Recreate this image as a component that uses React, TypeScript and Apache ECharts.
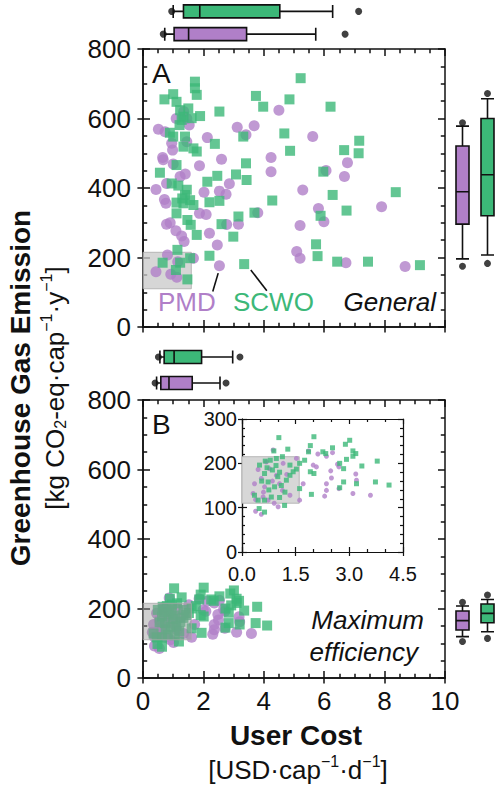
import React, { useEffect, useRef } from "react";
import * as echarts from "echarts";

const PURPLE = "#b07fc8";
const GREEN = "#3cb878";
const INK = "#111111";
const FONT = "Liberation Sans";

// Panel A (General) scatter data: [user cost, GHG emission]
const pmdGeneral: number[][] = [
  [4.5, 624], [3.12, 575], [3.68, 579], [3.41, 553], [5.62, 548], [0.51, 569], [0.73, 562], [1.53, 581],
  [2.13, 545], [0.95, 529], [0.98, 509], [1.45, 533], [0.65, 488], [0.67, 481], [1.0, 469], [1.87, 464],
  [2.6, 483], [4.24, 488], [4.24, 447], [6.06, 450], [6.77, 473], [6.67, 433], [0.78, 413], [0.43, 396],
  [0.71, 367], [0.76, 356], [2.86, 412], [2.53, 391], [2.75, 382], [2.02, 388], [5.29, 394], [7.9, 346],
  [5.81, 341], [5.99, 303], [5.2, 292], [1.87, 327], [2.09, 324], [3.8, 329], [0.78, 296], [0.9, 300],
  [1.09, 277], [1.28, 262], [1.36, 246], [2.2, 270], [2.46, 236], [2.77, 295], [3.16, 296], [5.09, 217],
  [5.2, 198], [6.72, 185], [8.68, 174], [2.53, 176], [0.81, 207], [1.15, 188], [0.43, 159], [0.92, 152],
  [1.12, 143], [1.67, 198], [1.23, 433], [1.4, 440], [1.1, 600], [1.45, 600], [1.35, 620],
];
const scwoGeneral: number[][] = [
  [5.22, 716], [1.72, 706], [1.72, 687], [1.0, 670], [0.71, 655], [1.78, 668], [3.74, 665], [4.85, 655],
  [3.98, 634], [6.21, 634], [1.11, 648], [1.5, 629], [1.23, 624], [1.89, 607], [2.53, 620], [1.61, 601],
  [1.28, 596], [1.34, 605], [1.21, 581], [0.89, 559], [1.0, 548], [3.32, 548], [4.68, 557], [1.39, 548],
  [2.38, 527], [1.34, 519], [1.67, 514], [1.78, 505], [4.87, 507], [6.66, 509], [7.16, 536], [7.14, 500],
  [5.97, 447], [0.56, 444], [1.11, 466], [3.41, 471], [3.08, 439], [3.43, 423], [2.46, 435], [2.13, 418],
  [0.95, 413], [1.17, 407], [1.39, 380], [1.56, 365], [1.11, 358], [1.34, 356], [1.67, 351], [2.2, 359],
  [2.53, 363], [4.28, 364], [6.28, 380], [8.37, 388], [6.74, 335], [3.69, 329], [3.16, 318], [5.88, 320],
  [1.11, 327], [1.47, 308], [1.58, 294], [2.6, 296], [2.99, 260], [1.78, 265], [1.14, 222], [2.2, 205],
  [1.56, 198], [5.73, 238], [5.78, 204], [6.43, 188], [7.45, 188], [9.17, 178], [3.35, 181], [1.23, 185],
  [0.65, 185], [1.47, 137], [1.09, 164], [1.45, 395], [1.3, 370],
];

// Panel B (Maximum efficiency) scatter data
const pmdMax: number[][] = [
  [0.87, 230], [1.86, 228], [2.12, 221], [2.53, 224], [2.36, 216], [2.67, 198], [2.71, 192], [1.99, 196],
  [2.08, 192], [2.48, 183], [2.5, 167], [2.36, 154], [2.36, 139], [2.31, 126], [3.18, 176], [3.2, 162],
  [2.71, 143], [3.1, 132], [3.59, 128], [1.71, 154], [1.61, 117], [1.34, 128], [1.13, 139], [1.05, 154],
  [0.96, 173], [0.77, 188], [0.45, 186], [0.54, 166], [0.35, 154], [0.63, 147], [0.59, 124], [0.73, 117],
  [1.01, 102], [0.38, 92], [0.54, 85], [0.38, 118], [0.31, 132], [0.68, 203], [1.15, 200], [1.52, 211],
  [0.85, 160], [1.25, 175], [0.6, 135], [0.9, 110],
];
const scwoMax: number[][] = [
  [1.03, 258], [2.01, 260], [3.01, 252], [2.89, 243], [1.28, 232], [0.89, 228], [1.86, 226], [1.91, 240],
  [2.53, 235], [2.26, 226], [2.34, 222], [3.1, 228], [3.18, 222], [3.1, 216], [2.92, 209], [3.78, 205],
  [1.75, 207], [1.61, 200], [3.35, 194], [2.01, 177], [1.91, 181], [1.13, 215], [0.96, 211], [0.79, 207],
  [1.52, 187], [1.34, 196], [1.43, 181], [1.24, 162], [1.34, 173], [2.73, 200], [2.84, 188], [2.84, 158],
  [2.73, 145], [3.2, 154], [3.73, 158], [4.11, 151], [1.94, 130], [1.61, 143], [0.49, 196], [0.63, 177],
  [0.73, 158], [0.91, 147], [0.82, 124], [1.05, 123], [0.45, 117], [0.63, 117], [1.19, 105], [0.48, 98],
  [0.63, 90], [0.35, 128], [0.7, 190], [0.85, 185], [1.0, 170], [0.75, 140], [1.1, 150], [0.95, 195],
  [0.55, 160], [1.2, 135], [0.65, 205], [1.05, 180],
];

// Box plots: [lower whisker, Q1, median, Q3, upper whisker]
const boxCategories = ["PMD", "SCWO"];
const costBoxGeneral = { PMD: [0.72, 1.03, 1.51, 3.43, 5.72], SCWO: [1.0, 1.34, 1.88, 4.53, 6.28] };
const costDotsGeneral = { PMD: [0.67, 6.69], SCWO: [0.95, 7.14] };
const costBoxMax = { PMD: [0.45, 0.59, 0.86, 1.63, 2.55], SCWO: [0.56, 0.7, 1.03, 1.94, 2.97] };
const costDotsMax = { PMD: [0.4, 2.75], SCWO: [0.51, 3.21] };
const ghgBoxGeneral = { PMD: [196, 296, 389, 521, 578], SCWO: [207, 320, 438, 600, 657] };
const ghgDotsGeneral = { PMD: [175, 588], SCWO: [183, 672] };
const ghgBoxMax = { PMD: [119, 138, 165, 193, 207], SCWO: [133, 159, 186, 213, 226] };
const ghgDotsMax = { PMD: [105, 218], SCWO: [114, 239] };

// Highlighted region (cost, emission)
const zoomRegion = { x: [0, 1.6], y: [110, 215] };
// Leader lines from labels to points (panel A)
const pmdLeader = [[2.31, 102], [2.49, 155]];
const scwoLeader = [[3.57, 164], [4.1, 104]];

const X_TICKS = { min: 0, max: 10, interval: 2, minor: 4 };
const Y_TICKS = { min: 0, max: 800, interval: 200, minor: 4 };
const INSET_X = { min: 0, max: 4.5, interval: 1.5, minor: 3 };
const INSET_Y = { min: 0, max: 300, interval: 100, minor: 5 };

const line = (w: number) => ({ color: INK, width: w });

function axis(
  kind: "x" | "y",
  grid: number,
  ticks: any,
  position: string,
  mode: "in" | "out",
  label: boolean,
  fontSize: number,
  w: number,
  big: number
) {
  const small = fontSize < 22;
  return {
    type: "value",
    gridIndex: grid,
    position,
    min: ticks.min,
    max: ticks.max,
    interval: ticks.interval,
    axisLine: { show: true, onZero: false, lineStyle: line(w) },
    axisTick: { show: true, inside: mode === "in", length: mode === "in" ? big : big * 0.8, lineStyle: line(w) },
    minorTick: { show: mode === "in", splitNumber: ticks.minor, length: big * 0.6, lineStyle: line(w) },
    axisLabel: {
      show: label,
      fontSize,
      color: INK,
      fontFamily: FONT,
      margin: kind === "y" ? (small ? 5 : 12) : small ? 12 : 10,
      formatter: ticks.interval === 1.5 ? (v: number) => v.toFixed(1) : undefined,
    },
    splitLine: { show: false },
    minorSplitLine: { show: false },
  };
}

function hiddenValue(grid: number, min: number, max: number) {
  return {
    type: "value", gridIndex: grid, min, max, show: false,
    axisLine: { show: false }, axisTick: { show: false }, axisLabel: { show: false }, splitLine: { show: false },
  };
}
function hiddenCat(grid: number) {
  return {
    type: "category", gridIndex: grid, data: boxCategories, show: false,
    axisLine: { show: false }, axisTick: { show: false }, axisLabel: { show: false }, splitLine: { show: false },
  };
}

function boxSeries(xi: number, yi: number, box: any, dots: any, horizontal: boolean) {
  const series: any[] = [
    {
      type: "boxplot",
      xAxisIndex: xi,
      yAxisIndex: yi,
      boxWidth: [13, 13],
      itemStyle: { borderColor: INK, borderWidth: 1.6 },
      data: [
        { value: box.PMD, itemStyle: { color: PURPLE, borderColor: INK } },
        { value: box.SCWO, itemStyle: { color: GREEN, borderColor: INK } },
      ],
      z: 3,
    },
  ];
  const pts: any[] = [];
  boxCategories.forEach((c, i) => {
    (dots as any)[c].forEach((v: number) => pts.push(horizontal ? [v, i] : [i, v]));
  });
  series.push({
    type: "scatter", xAxisIndex: xi, yAxisIndex: yi, symbol: "circle", symbolSize: 7,
    itemStyle: { color: INK }, data: pts, z: 4,
  });
  return series;
}

export default function App() {
  const ref = useRef<HTMLDivElement>(null);
  useEffect(() => {
    if (!ref.current) return;
    const chart = echarts.init(ref.current, null, { renderer: "svg" });

    const grids = [
      { left: 143, top: 49, width: 302, height: 278 },
      { left: 143, top: 400, width: 302, height: 278 },
      { left: 242, top: 419, width: 161, height: 133, show: true, backgroundColor: "#ffffff", borderWidth: 0 },
      { left: 143, top: -5.5, width: 302, height: 51 },
      { left: 143, top: 344, width: 302, height: 52 },
      { left: 450, top: 49, width: 54, height: 278 },
      { left: 450, top: 400, width: 54, height: 278 },
    ];

    const xAxis = [
      axis("x", 0, X_TICKS, "bottom", "in", false, 26, 1.5, 7),
      axis("x", 0, X_TICKS, "bottom", "out", false, 26, 1.5, 7),
      axis("x", 0, X_TICKS, "top", "in", false, 26, 1.5, 7),
      axis("x", 1, X_TICKS, "bottom", "in", true, 26, 1.5, 7),
      axis("x", 1, X_TICKS, "bottom", "out", false, 26, 1.5, 7),
      axis("x", 1, X_TICKS, "top", "in", false, 26, 1.5, 7),
      axis("x", 2, INSET_X, "bottom", "in", true, 20, 1.2, 5),
      axis("x", 2, INSET_X, "bottom", "out", false, 20, 1.2, 5),
      axis("x", 2, INSET_X, "top", "in", false, 20, 1.2, 5),
      hiddenValue(3, 0, 10),
      hiddenValue(4, 0, 10),
      hiddenCat(5),
      hiddenCat(6),
    ];
    const yAxis = [
      axis("y", 0, Y_TICKS, "left", "in", true, 26, 1.5, 7),
      axis("y", 0, Y_TICKS, "left", "out", false, 26, 1.5, 7),
      axis("y", 0, Y_TICKS, "right", "in", false, 26, 1.5, 7),
      axis("y", 1, Y_TICKS, "left", "in", true, 26, 1.5, 7),
      axis("y", 1, Y_TICKS, "left", "out", false, 26, 1.5, 7),
      axis("y", 1, Y_TICKS, "right", "in", false, 26, 1.5, 7),
      axis("y", 2, INSET_Y, "left", "in", true, 20, 1.2, 5),
      axis("y", 2, INSET_Y, "left", "out", false, 20, 1.2, 5),
      axis("y", 2, INSET_Y, "right", "in", false, 20, 1.2, 5),
      hiddenCat(3),
      hiddenCat(4),
      hiddenValue(5, 0, 800),
      hiddenValue(6, 0, 800),
    ];

    const area = (color: string, z: number) => ({
      silent: true,
      z,
      itemStyle: { color, borderWidth: 1, borderColor: "rgba(170,170,170,0.8)" },
      data: [[{ coord: [zoomRegion.x[0], zoomRegion.y[0]] }, { coord: [zoomRegion.x[1], zoomRegion.y[1]] }]],
    });

    const series: any[] = [
      // Panel A
      {
        type: "scatter", xAxisIndex: 0, yAxisIndex: 0, data: [], z: 1,
        markArea: area("rgba(200,200,200,0.75)", 1),
        markLine: {
          silent: true, symbol: ["none", "none"], lineStyle: { color: INK, width: 1.6, type: "solid" },
          label: { show: false },
          data: [
            [{ coord: pmdLeader[0] }, { coord: pmdLeader[1] }],
            [{ coord: scwoLeader[0] }, { coord: scwoLeader[1] }],
          ],
        },
      },
      { type: "scatter", xAxisIndex: 0, yAxisIndex: 0, symbol: "circle", symbolSize: 11, itemStyle: { color: PURPLE }, data: pmdGeneral, z: 2 },
      { type: "scatter", xAxisIndex: 0, yAxisIndex: 0, symbol: "rect", symbolSize: 10, itemStyle: { color: GREEN }, data: scwoGeneral, z: 2 },
      // Panel B
      { type: "scatter", xAxisIndex: 3, yAxisIndex: 3, symbol: "circle", symbolSize: 11, itemStyle: { color: PURPLE }, data: pmdMax, z: 2 },
      { type: "scatter", xAxisIndex: 3, yAxisIndex: 3, symbol: "rect", symbolSize: 10, itemStyle: { color: GREEN }, data: scwoMax, z: 2 },
      { type: "scatter", xAxisIndex: 3, yAxisIndex: 3, data: [], z: 6, markArea: area("rgba(150,150,150,0.45)", 6) },
      // Inset
      { type: "scatter", xAxisIndex: 6, yAxisIndex: 6, data: [], z: 1, markArea: area("rgba(215,215,215,1)", 1) },
      { type: "scatter", xAxisIndex: 6, yAxisIndex: 6, symbol: "circle", symbolSize: 5, itemStyle: { color: PURPLE }, data: pmdMax, z: 2 },
      { type: "scatter", xAxisIndex: 6, yAxisIndex: 6, symbol: "rect", symbolSize: 5, itemStyle: { color: GREEN }, data: scwoMax, z: 2 },
      // Box plots
      ...boxSeries(9, 9, costBoxGeneral, costDotsGeneral, true),
      ...boxSeries(10, 10, costBoxMax, costDotsMax, true),
      ...boxSeries(11, 11, ghgBoxGeneral, ghgDotsGeneral, false),
      ...boxSeries(12, 12, ghgBoxMax, ghgDotsMax, false),
    ];

    const txt = (text: string, x: number, y: number, o: any = {}) => ({
      type: "text",
      x,
      y,
      rotation: o.rotation || 0,
      z: 20,
      style: {
        text,
        fill: o.fill || INK,
        fontSize: o.fontSize || 26,
        fontWeight: o.fontWeight || "normal",
        fontStyle: o.fontStyle || "normal",
        fontFamily: FONT,
        align: o.align || "left",
        verticalAlign: "middle",
        textAlign: o.align || "left",
        textVerticalAlign: "middle",
        rich: o.rich,
      },
    });
    const supsub = {
      sup: { fontSize: 16, verticalAlign: "top", fontFamily: FONT, fill: INK, lineHeight: 30 },
      sub: { fontSize: 16, verticalAlign: "bottom", fontFamily: FONT, fill: INK, lineHeight: 30 },
      n: { fontSize: 26, fontFamily: FONT, fill: INK, lineHeight: 30, verticalAlign: "bottom" },
    };

    const graphic = [
      txt("A", 152, 73, { fontSize: 28 }),
      txt("B", 152, 424, { fontSize: 28 }),
      txt("PMD", 158, 302, { fill: PURPLE }),
      txt("SCWO", 233, 302, { fill: GREEN }),
      txt("General", 436, 302, { align: "right", fontStyle: "italic" }),
      txt("Maximum", 424, 620, { align: "right", fontStyle: "italic" }),
      txt("efficiency", 418, 652, { align: "right", fontStyle: "italic" }),
      txt("User Cost", 296, 735, { align: "center", fontWeight: "bold", fontSize: 28 }),
      txt("{n|[USD·cap}{sup|−1}{n|·d}{sup|−1}{n|]}", 298, 768, { align: "center", rich: supsub }),
      txt("Greenhouse Gas Emission", 20, 388, { align: "center", fontWeight: "bold", fontSize: 28, rotation: Math.PI / 2 }),
      txt("{n|[kg CO}{sub|2}{n|-eq·cap}{sup|−1}{n|·y}{sup|−1}{n|]}", 53, 388, { align: "center", rich: supsub, rotation: Math.PI / 2 }),
    ];

    chart.setOption({
      animation: false,
      backgroundColor: "#ffffff",
      textStyle: { fontFamily: FONT },
      grid: grids,
      xAxis,
      yAxis,
      series,
      graphic,
    });
    return () => chart.dispose();
  }, []);
  return <div ref={ref} style={{ position: "absolute", left: 0, top: 0, width: 500, height: 787 }} />;
}
